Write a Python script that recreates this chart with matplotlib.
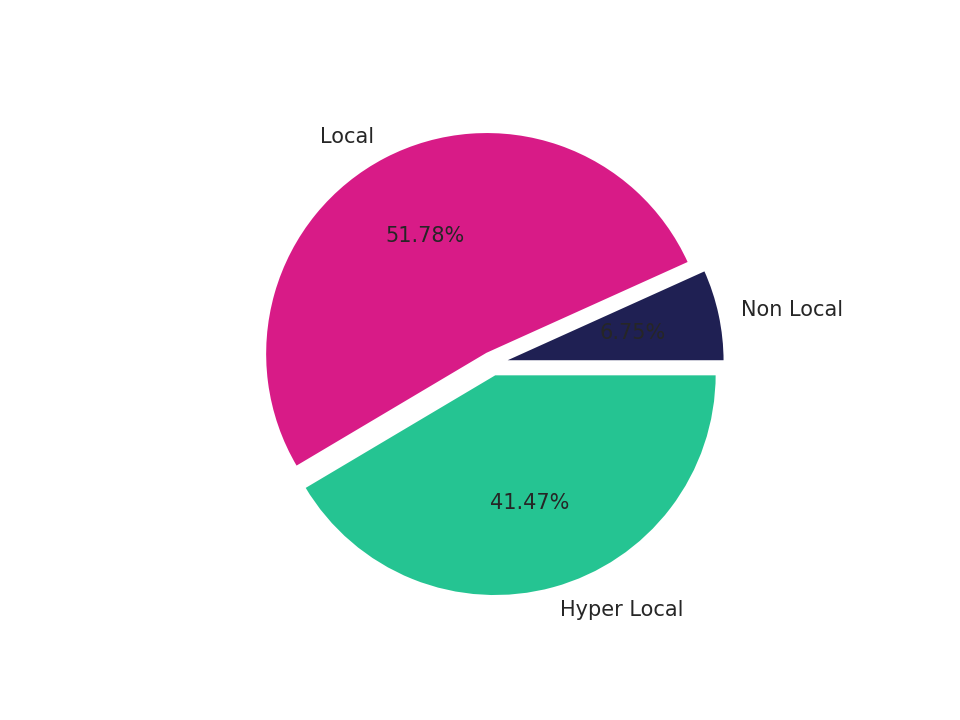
import matplotlib
matplotlib.use("Agg")
import matplotlib.pyplot as plt
import seaborn as sns

sns.set_style("white")
labels = ["Non Local", "Local", "Hyper Local"]
values = [6.75, 51.78, 41.47]
colors = ["#1f2053", "#d81b87", "#25c492"]
explode = [0.05, 0.05, 0.05]

fig, ax = plt.subplots(figsize=(6.4, 4.8), dpi=150)
ax.pie(values, labels=labels, colors=colors, explode=explode, autopct="%.2f%%",
       textprops={"color": "#262626"})
fig.savefig("out.png")
